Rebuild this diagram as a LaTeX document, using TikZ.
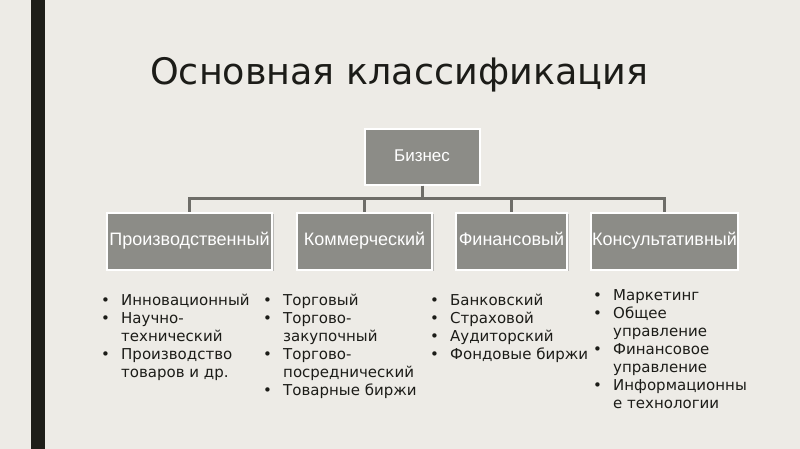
\documentclass[tikz,border=0pt]{standalone}
\usepackage{fontspec}
\setmainfont{DejaVu Sans}
\newfontfamily\boxfont{Liberation Sans}
\usepackage{array}
\usetikzlibrary{positioning, shadows}

\definecolor{slidebg}{HTML}{EDEBE6}
\definecolor{barblack}{HTML}{1E1E19}
\definecolor{boxgrey}{HTML}{8C8C87}
\definecolor{linkgrey}{HTML}{6E6D68}
\definecolor{inkblack}{HTML}{1C1C18}

\tikzset{
  catbox/.style={draw=white, line width=2pt, fill=boxgrey, text=white,
    font=\boxfont\fontsize{18}{21}\selectfont, minimum height=57pt, inner sep=1pt,
    text height=13pt, text depth=4pt,
    drop shadow={shadow xshift=1.5pt, shadow yshift=-1.5pt, opacity=0.45}},
  link/.style={draw=linkgrey, line width=3pt},
  itemlist/.style={anchor=north west, align=left, inner sep=0pt, text=inkblack,
    font=\fontsize{15}{18}\selectfont}
}
\newcommand{\dotrow}{\textbullet &}

\begin{document}
\begin{tikzpicture}[x=1pt, y=-1pt]
  % Background and side bar
  \fill[slidebg] (0,0) rectangle (800,449);
  \fill[barblack] (31,0) rectangle (45,449);
  \useasboundingbox (0,0) rectangle (800,449);

  % Title
  \node[anchor=base west, inner sep=0pt, text=inkblack,
    font=\fontsize{36.5}{44}\selectfont] (title) at (150,85) {Основная классификация};

  % Top box
  \node[catbox, minimum width=115pt, minimum height=56pt,
    font=\boxfont\fontsize{17}{20}\selectfont] (biz) at (422,157) {Бизнес};

  % Category boxes
  \node[catbox, minimum width=165pt] (prod) at (189.5,241) {Производственный};
  \node[catbox, minimum width=135pt] (comm) at (364.5,241) {Коммерческий};
  \node[catbox, minimum width=111pt] (fin) at (511.5,241) {Финансовый};
  \node[catbox, minimum width=143pt] (cons) at (664.5,241) {Консультативный};

  % Connectors from the top box
  \coordinate (bus) at (422,199);
  \foreach \c in {prod,comm,fin,cons}
    \draw[link] (biz.south) -- (bus) -| (\c.north);

  % Lists under the boxes
  \node[itemlist] (prodlist) at (101,293) {\begin{tabular}{@{}p{20pt}@{}l@{}}
    \dotrow Инновационный\\ \dotrow Научно-\\ & технический\\
    \dotrow Производство\\ & товаров и др.\end{tabular}};
  \node[itemlist] (commlist) at (263,293) {\begin{tabular}{@{}p{20pt}@{}l@{}}
    \dotrow Торговый\\ \dotrow Торгово-\\ & закупочный\\
    \dotrow Торгово-\\ & посреднический\\ \dotrow Товарные биржи\end{tabular}};
  \node[itemlist] (finlist) at (430,293) {\begin{tabular}{@{}p{20pt}@{}l@{}}
    \dotrow Банковский\\ \dotrow Страховой\\ \dotrow Аудиторский\\
    \dotrow Фондовые биржи\end{tabular}};
  \node[itemlist] (conslist) at (593,288) {\begin{tabular}{@{}p{20pt}@{}l@{}}
    \dotrow Маркетинг\\ \dotrow Общее\\ & управление\\
    \dotrow Финансовое\\ & управление\\ \dotrow Информационны\\ & е технологии\end{tabular}};
\end{tikzpicture}
\end{document}
